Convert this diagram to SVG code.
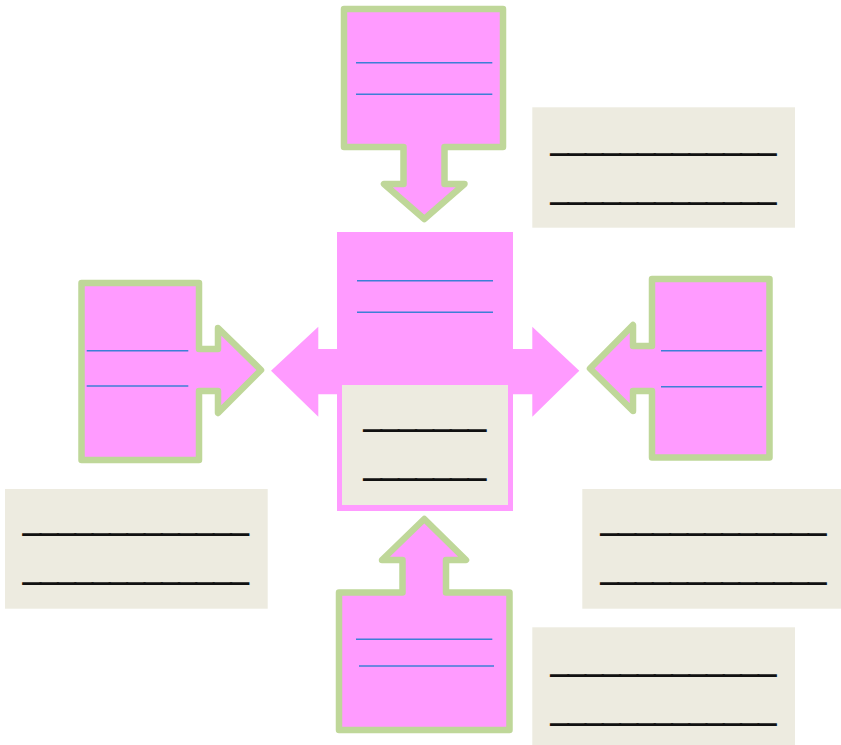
<svg xmlns="http://www.w3.org/2000/svg" width="841" height="745" viewBox="0 0 841 745">
<style>
.callout{fill:#FF9BFF;stroke:#BFD799;stroke-width:6.5;stroke-linejoin:round}
.pink{fill:#FF9BFF}
.note{fill:#EDEBE0}
.blue{stroke:#3D7FD6;stroke-width:1.6}
.us{font-family:"Liberation Sans",Arial,sans-serif;font-size:31px;font-weight:bold;fill:#111;stroke:#111;stroke-width:1.6}
</style>
<rect width="841" height="745" fill="#ffffff"/>
<g id="connectors">
<polygon class="pink" points="271,370.7 318.3,326.7 318.3,349 532.3,349 532.3,326.7 579.3,370.7 532.3,416.7 532.3,394.3 318.3,394.3 318.3,416.7"/>
</g>
<g id="center">
<rect class="pink" x="337" y="232" width="176" height="279"/>
<line class="blue" x1="357" y1="280.7" x2="493" y2="280.7"/>
<line class="blue" x1="357" y1="312.3" x2="493" y2="312.3"/>
<rect class="note" x="342" y="385" width="166" height="120"/>
<text class="us" x="364" y="426.5" textLength="121.5" lengthAdjust="spacingAndGlyphs">_______</text>
<text class="us" x="364" y="475.8" textLength="121.5" lengthAdjust="spacingAndGlyphs">_______</text>
</g>
<g id="top">
<path class="callout" d="M344,9 H503 V147 H444.5 V184 H464.5 L424.3,219 L384,184 H403.5 V147 H344 Z"/>
<line class="blue" x1="356" y1="62.7" x2="492.3" y2="62.7"/>
<line class="blue" x1="356" y1="94.3" x2="492.3" y2="94.3"/>
</g>
<g id="left">
<path class="callout" d="M81.5,283 H199 V349 H218 V328 L261,370 L218,413 V391 H199 V460 H81.5 Z"/>
<line class="blue" x1="86.7" y1="350.7" x2="188.3" y2="350.7"/>
<line class="blue" x1="86.7" y1="386" x2="188.3" y2="386"/>
</g>
<g id="right">
<path class="callout" d="M769.5,279 V457.5 H652 V391 H633 V411 L590,368.5 L633,325 V346 H652 V279 Z"/>
<line class="blue" x1="661" y1="350.7" x2="762.3" y2="350.7"/>
<line class="blue" x1="661" y1="386.7" x2="762.3" y2="386.7"/>
</g>
<g id="bottom">
<path class="callout" d="M339,592.5 H402.5 V560 H382 L424.3,519 L466,560 H446 V592.5 H509.5 V730 H339 Z"/>
<line class="blue" x1="356" y1="639.3" x2="492.3" y2="639.3"/>
<line class="blue" x1="359" y1="666" x2="494" y2="666"/>
</g>
<g id="note-top-right">
<rect class="note" x="532.3" y="107.3" width="262.7" height="120.4"/>
<text class="us" x="551" y="150.5" textLength="224.7" lengthAdjust="spacingAndGlyphs">_____________</text>
<text class="us" x="551" y="199.8" textLength="224.7" lengthAdjust="spacingAndGlyphs">_____________</text>
</g>
<g id="note-left">
<rect class="note" x="5" y="489" width="262.7" height="119.7"/>
<text class="us" x="23.3" y="530.5" textLength="225" lengthAdjust="spacingAndGlyphs">_____________</text>
<text class="us" x="23.3" y="579.8" textLength="225" lengthAdjust="spacingAndGlyphs">_____________</text>
</g>
<g id="note-right">
<rect class="note" x="582.3" y="489" width="258.7" height="119.7"/>
<text class="us" x="601" y="530.5" textLength="224.7" lengthAdjust="spacingAndGlyphs">_____________</text>
<text class="us" x="601" y="579.8" textLength="224.7" lengthAdjust="spacingAndGlyphs">_____________</text>
</g>
<g id="note-bottom-right">
<rect class="note" x="532.3" y="627.3" width="262.7" height="117.7"/>
<text class="us" x="551" y="671.5" textLength="224.7" lengthAdjust="spacingAndGlyphs">_____________</text>
<text class="us" x="551" y="720.8" textLength="224.7" lengthAdjust="spacingAndGlyphs">_____________</text>
</g>
</svg>
